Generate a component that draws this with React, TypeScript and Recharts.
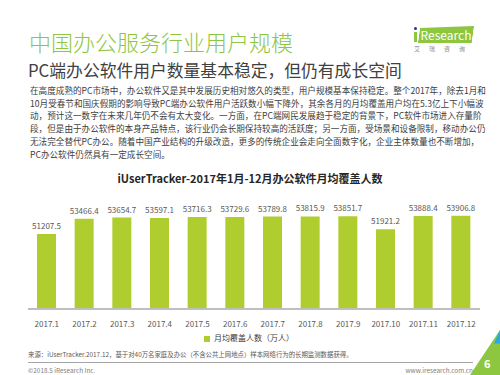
import React from 'react'
import { BarChart, Bar, XAxis, YAxis, LabelList, Legend } from 'recharts'

const months = ['2017.1', '2017.2', '2017.3', '2017.4', '2017.5', '2017.6', '2017.7', '2017.8', '2017.9', '2017.10', '2017.11', '2017.12']
const users = [51207.5, 53466.4, 53654.7, 53597.1, 53716.3, 53729.6, 53789.8, 53815.9, 53851.7, 51921.2, 53888.4, 53906.8]
const seriesName = '月均覆盖人数（万人）'

const data = months.map((m, i) => ({ month: m, users: users[i] }))

const paragraph = [
  '在高度成熟的PC市场中，办公软件又是其中发展历史相对悠久的类型，用户规模基本保持稳定。整个2017年，除去1月和',
  '10月受春节和国庆假期的影响导致PC端办公软件用户活跃数小幅下降外，其余各月的月均覆盖用户均在5.3亿上下小幅波',
  '动，预计这一数字在未来几年仍不会有太大变化。一方面，在PC端网民发展趋于稳定的背景下，PC软件市场进入存量阶',
  '段，但是由于办公软件的本身产品特点，该行业仍会长期保持较高的活跃度；另一方面，受场景和设备限制，移动办公仍',
  '无法完全替代PC办公。随着中国产业结构的升级改造，更多的传统企业会走向全面数字化，企业主体数量也不断增加，',
  'PC办公软件仍然具有一定成长空间。',
]

const font = '"Noto Sans CJK SC", "Noto Sans", sans-serif'
const green = '#8dc63f'
const barColor = '#b0cd2f'

const abs = (s: React.CSSProperties): React.CSSProperties => ({ position: 'absolute', ...s })

export default function App() {
  return (
    <div style={{ position: 'absolute', left: 0, top: 0, width: 500, height: 375, background: '#fff', overflow: 'hidden', fontFamily: font }}>
      <div style={abs({ left: 29, top: 27, fontSize: 22, fontWeight: 300, color: green, lineHeight: '28px', whiteSpace: 'nowrap' })}>中国办公服务行业用户规模</div>
      <div style={abs({ left: 28, top: 59, fontSize: 16.8, color: '#404040', lineHeight: '22px', whiteSpace: 'nowrap' })}>PC端办公软件用户数量基本稳定，但仍有成长空间</div>

      {/* logo */}
      <div style={abs({ left: 413, top: 27, width: 6, height: 15 })}>
        <div style={abs({ left: 1, top: 0, width: 3, height: 3, background: '#1f3a93', borderRadius: 2 })} />
        <div style={abs({ left: 1, top: 5, width: 3, height: 10, background: green })} />
      </div>
      <div style={abs({ left: 419, top: 26, width: 54, height: 17, background: green, transform: 'skewX(-8deg)', clipPath: 'polygon(0 12%, 100% 0, 100% 100%, 0 100%)' })} />
      <div style={abs({ left: 419, top: 26, width: 54, fontSize: 12, lineHeight: '17px', color: '#fff', textAlign: 'center', whiteSpace: 'nowrap' })}>Research</div>
      <div style={abs({ left: 414, top: 45, width: 60, fontSize: 6, color: '#8c8c8c', letterSpacing: 9, whiteSpace: 'nowrap', lineHeight: '8px' })}>艾瑞咨询</div>

      <div style={abs({ left: 30, top: 84, width: 442, fontSize: 8.6, color: '#404040', lineHeight: '12.7px' })}>
        {paragraph.map((line, i) => (
          <div key={i} style={{ whiteSpace: 'nowrap', textAlign: i < paragraph.length - 1 ? 'justify' : 'left', textAlignLast: i < paragraph.length - 1 ? 'justify' : 'left' }}>{line}</div>
        ))}
      </div>

      <div style={abs({ left: 0, top: 171, width: 500, textAlign: 'center', fontSize: 11, fontWeight: 'bold', color: '#262626', lineHeight: '14px' })}>
        iUserTracker-2017年1月-12月办公软件月均覆盖人数
      </div>

      <div style={abs({ left: 0, top: 170 })}>
        <BarChart width={500} height={176} data={data} margin={{ top: 5, right: 20, bottom: 0, left: 28 }}>
          <XAxis
            dataKey="month"
            height={21}
            tickLine={false}
            axisLine={{ stroke: '#bfbfbf', strokeWidth: 2 }}
            tick={{ fontSize: 8, fill: '#595959', fontFamily: font }}
            tickMargin={6}
            interval={0}
          />
          <YAxis hide domain={[40000, 60000]} allowDataOverflow />
          <Legend
            verticalAlign="bottom"
            iconType="square"
            iconSize={6}
            wrapperStyle={{ fontSize: 8, color: '#404040', lineHeight: '16px', height: 16, fontFamily: font }}
            formatter={(v) => <span style={{ color: '#404040' }}>{v}</span>}
          />
          <Bar dataKey="users" name={seriesName} fill={barColor} barSize={19} isAnimationActive={false}>
            <LabelList dataKey="users" position="top" offset={5} style={{ fontSize: 8, fill: '#595959', fontFamily: font }} />
          </Bar>
        </BarChart>
      </div>

      <div style={abs({ left: 28, top: 350, fontSize: 6.4, color: '#595959', lineHeight: '9px', whiteSpace: 'nowrap' })}>
        来源：iUserTracker.2017.12，基于对40万名家庭及办公（不含公共上网地点）样本网络行为的长期监测数据获得。
      </div>
      <div style={abs({ left: 28, top: 362, width: 445, height: 1, background: '#a6a6a6' })} />
      <div style={abs({ left: 28, top: 366, fontSize: 6.4, color: '#7f7f7f', lineHeight: '9px', whiteSpace: 'nowrap' })}>©2018.5 iResearch Inc.</div>
      <div style={abs({ left: 373, top: 366, width: 100, textAlign: 'right', fontSize: 6.4, color: '#7f7f7f', lineHeight: '9px', whiteSpace: 'nowrap' })}>www.iresearch.com.cn</div>

      {/* page corner */}
      <div style={abs({ left: 470, top: 330, width: 30, height: 45, background: green, clipPath: 'polygon(100% 0, 100% 100%, 0 100%)' })} />
      <div style={abs({ left: 470, top: 330, width: 30, height: 45, background: '#29abe2', clipPath: 'polygon(100% 0, 100% 30%, 80% 30%)' })} />
      <div style={abs({ left: 484, top: 356, fontSize: 11, fontWeight: 'bold', color: '#fff', lineHeight: '14px' })}>6</div>
    </div>
  )
}
